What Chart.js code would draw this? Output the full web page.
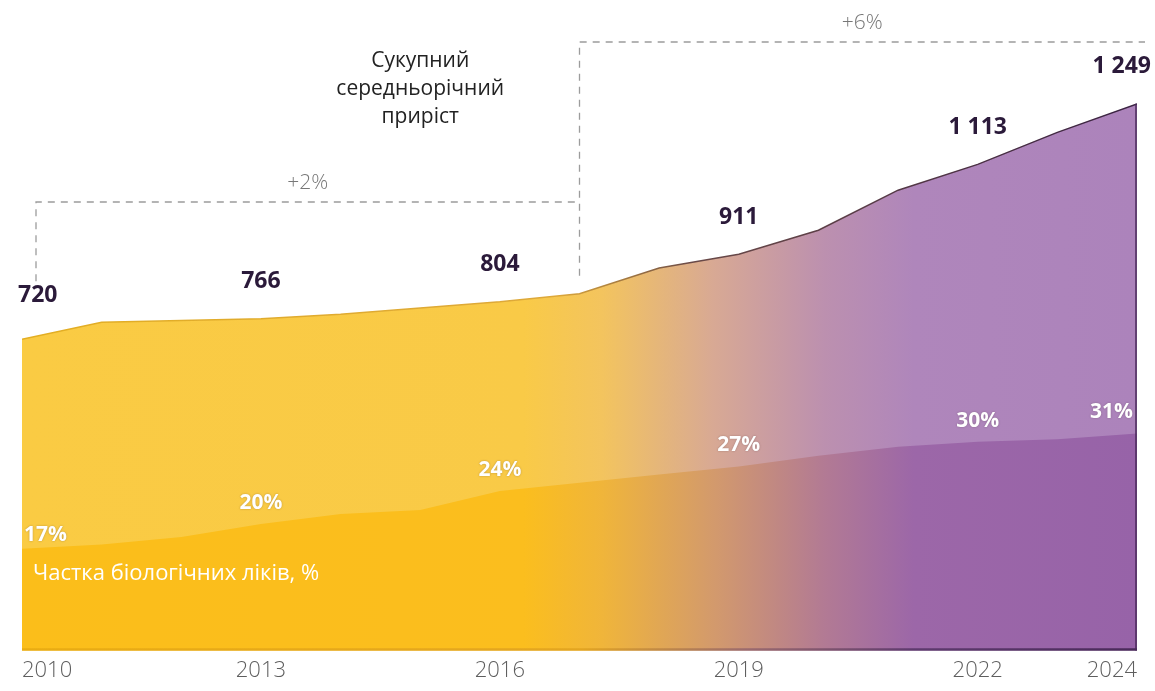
<!DOCTYPE html>
<html>
<head>
<meta charset="utf-8">
<script src="https://cdn.jsdelivr.net/npm/chart.js@4.4.1/dist/chart.umd.min.js"></script>
<style>
  html, body { margin: 0; padding: 0; background: #fff; }
  #wrap { width: 1155px; height: 691px; position: relative; }
</style>
</head>
<body>
<div id="wrap"><canvas id="chart"></canvas></div>
<script>
// -- Data --
const years = [2010, 2011, 2012, 2013, 2014, 2015, 2016, 2017, 2018, 2019, 2020, 2021, 2022, 2023, 2024];
// total market, labelled values at the tick years
const marketTotal = [720, 758, 762, 766, 776, 790, 804, 822, 880, 911, 965, 1055, 1113, 1185, 1249];
// share of biologics, %
const bioShare = [17, 17.5, 18.4, 20, 21.2, 21.7, 24, 25, 26, 27, 28.3, 29.4, 30, 30.3, 31];
const tickYears = [2010, 2013, 2016, 2019, 2022, 2024];
// compound annual growth periods
const periodBounds = [2010, 2017, 2024];
const periodLabels = ['+2%', '+6%'];
const titleLines = ['Сукупний', 'середньорічний', 'приріст'];
const shareCaption = 'Частка біологічних ліків, %';

const FONT = '"Open Sans", "Noto Sans", sans-serif';

// -- Colours --
const upperStops = [[0, '#FACB43'], [0.45, '#F9CA47'], [0.52, '#F3C45E'], [0.62, '#D8A994'], [0.72, '#BC90AF'], [0.80, '#AF86BB'], [1, '#AC83BB']];
const lowerStops = [[0, '#FBBE1A'], [0.45, '#FBBE1E'], [0.52, '#F0B53A'], [0.62, '#D39A6C'], [0.72, '#B27A94'], [0.80, '#9C67A8'], [1, '#9763A8']];
const edgeStops = [[0, '#E3AE22'], [0.48, '#DDA83A'], [0.6, '#6A4A48'], [1, '#3B2443']];
const bottomStops = [[0, '#E9AC12'], [0.5, '#E3A520'], [0.65, '#9B6A6E'], [0.8, '#5E3A6E'], [1, '#4A2A5A']];

function makeGradient(chart, stops) {
    const {ctx, chartArea} = chart;
    if (!chartArea) return null;
    const g = ctx.createLinearGradient(chartArea.left, 0, chartArea.right, 0);
    stops.forEach(([p, c]) => g.addColorStop(p, c));
    return g;
}

function formatValue(v) {
    if (v >= 1000) return Math.floor(v / 1000) + ' ' + String(v % 1000).padStart(3, '0');
    return String(v);
}

// -- Annotations: value labels, share labels, growth brackets, captions --
const annotations = {
    id: 'annotations',
    afterDatasetsDraw(chart) {
        const {ctx, chartArea: area} = chart;
        const x = chart.scales.x, y = chart.scales.y, y2 = chart.scales.y2;
        const last = tickYears.length - 1;
        ctx.save();

        // right and bottom edge shading of the area
        const topRight = y.getPixelForValue(marketTotal[marketTotal.length - 1]);
        ctx.strokeStyle = 'rgba(74,42,90,0.75)';
        ctx.lineWidth = 2;
        ctx.beginPath();
        ctx.moveTo(area.right - 1, topRight);
        ctx.lineTo(area.right - 1, area.bottom);
        ctx.stroke();
        ctx.strokeStyle = makeGradient(chart, bottomStops);
        ctx.lineWidth = 2.5;
        ctx.beginPath();
        ctx.moveTo(area.left, area.bottom - 1);
        ctx.lineTo(area.right, area.bottom - 1);
        ctx.stroke();

        // total values
        ctx.font = 'bold 23px ' + FONT;
        ctx.fillStyle = '#2B1A3A';
        ctx.textBaseline = 'middle';
        tickYears.forEach((yr, i) => {
            const idx = years.indexOf(yr);
            const px = x.getPixelForValue(yr);
            const py = y.getPixelForValue(marketTotal[idx]);
            ctx.textAlign = i === 0 ? 'left' : (i === last ? 'right' : 'center');
            const tx = i === 0 ? px - 4 : (i === last ? px + 14 : px);
            ctx.fillText(formatValue(marketTotal[idx]), tx, py - (i === 0 ? 44 : 37));
        });

        // share values
        ctx.font = 'bold 21px ' + FONT;
        ctx.fillStyle = '#FFFFFF';
        ctx.shadowColor = 'rgba(60,40,40,0.35)';
        ctx.shadowBlur = 2;
        tickYears.forEach((yr, i) => {
            const idx = years.indexOf(yr);
            const px = x.getPixelForValue(yr);
            const py = y2.getPixelForValue(bioShare[idx]);
            ctx.textAlign = i === 0 ? 'left' : (i === last ? 'right' : 'center');
            const tx = i === 0 ? px + 2 : (i === last ? px - 4 : px);
            ctx.fillText(bioShare[idx] + '%', tx, py - (i === 0 ? 14 : 21));
        });
        ctx.shadowBlur = 0;
        ctx.shadowColor = 'transparent';

        // caption inside the lower area
        ctx.font = '22px ' + FONT;
        ctx.textAlign = 'left';
        ctx.fillText(shareCaption, area.left + 11, area.bottom - 77);

        // growth brackets
        const levels = [area.top + 192, area.top + 32];
        const legEnds = [
            y.getPixelForValue(marketTotal[0]) - 58,
            y.getPixelForValue(marketTotal[years.indexOf(periodBounds[1])]) - 18
        ];
        ctx.strokeStyle = '#9C9C9C';
        ctx.lineWidth = 1.3;
        ctx.setLineDash([7, 6]);
        const xs = [x.getPixelForValue(periodBounds[0]) + 14, x.getPixelForValue(periodBounds[1]), x.getPixelForValue(periodBounds[2]) + 8];
        ctx.beginPath();
        ctx.moveTo(xs[0], legEnds[0]);
        ctx.lineTo(xs[0], levels[0]);
        ctx.lineTo(xs[1], levels[0]);
        ctx.moveTo(xs[1], legEnds[1]);
        ctx.lineTo(xs[1], levels[1]);
        ctx.lineTo(xs[2], levels[1]);
        ctx.stroke();
        ctx.setLineDash([]);

        ctx.font = '300 21px ' + FONT;
        ctx.fillStyle = '#777777';
        ctx.textAlign = 'center';
        periodLabels.forEach((lbl, i) => {
            ctx.fillText(lbl, (xs[i] + xs[i + 1]) / 2, levels[i] - 19);
        });

        // title of the brackets
        ctx.font = '21px ' + FONT;
        ctx.fillStyle = '#222222';
        const tx = x.getPixelForValue(2015);
        titleLines.forEach((line, i) => {
            ctx.fillText(line, tx, levels[1] + 19 + i * 28);
        });
        ctx.restore();
    }
};

const canvas = document.getElementById('chart');
new Chart(canvas.getContext('2d'), {
    type: 'line',
    data: {
        datasets: [
            {
                label: shareCaption,
                data: years.map((yr, i) => ({x: yr, y: bioShare[i]})),
                yAxisID: 'y2',
                fill: 'start',
                backgroundColor: ctx => makeGradient(ctx.chart, lowerStops),
                borderWidth: 0,
                pointRadius: 0,
                order: 1
            },
            {
                label: 'Total',
                data: years.map((yr, i) => ({x: yr, y: marketTotal[i]})),
                yAxisID: 'y',
                fill: 'start',
                backgroundColor: ctx => makeGradient(ctx.chart, upperStops),
                borderColor: ctx => makeGradient(ctx.chart, edgeStops),
                borderWidth: 1.5,
                pointRadius: 0,
                order: 2
            }
        ]
    },
    options: {
        responsive: true,
        maintainAspectRatio: false,
        animation: false,
        layout: { padding: { left: 22, right: 18, top: 10, bottom: 0 } },
        elements: { line: { tension: 0 } },
        scales: {
            x: {
                type: 'linear',
                min: 2010,
                max: 2024,
                afterBuildTicks: axis => { axis.ticks = tickYears.map(v => ({value: v})); },
                grid: { display: false, drawTicks: false },
                border: { display: false },
                ticks: {
                    autoSkip: false,
                    maxRotation: 0,
                    align: 'inner',
                    padding: 7,
                    color: '#5E5E5E',
                    font: { family: FONT, size: 22, weight: 300 },
                    callback: v => String(v)
                }
            },
            y: { display: false, min: 20, max: 1460 },
            y2: { display: false, min: 4.6, max: 82.5 }
        },
        plugins: {
            legend: { display: false },
            tooltip: { enabled: false }
        }
    },
    plugins: [annotations]
});
</script>
</body>
</html>
